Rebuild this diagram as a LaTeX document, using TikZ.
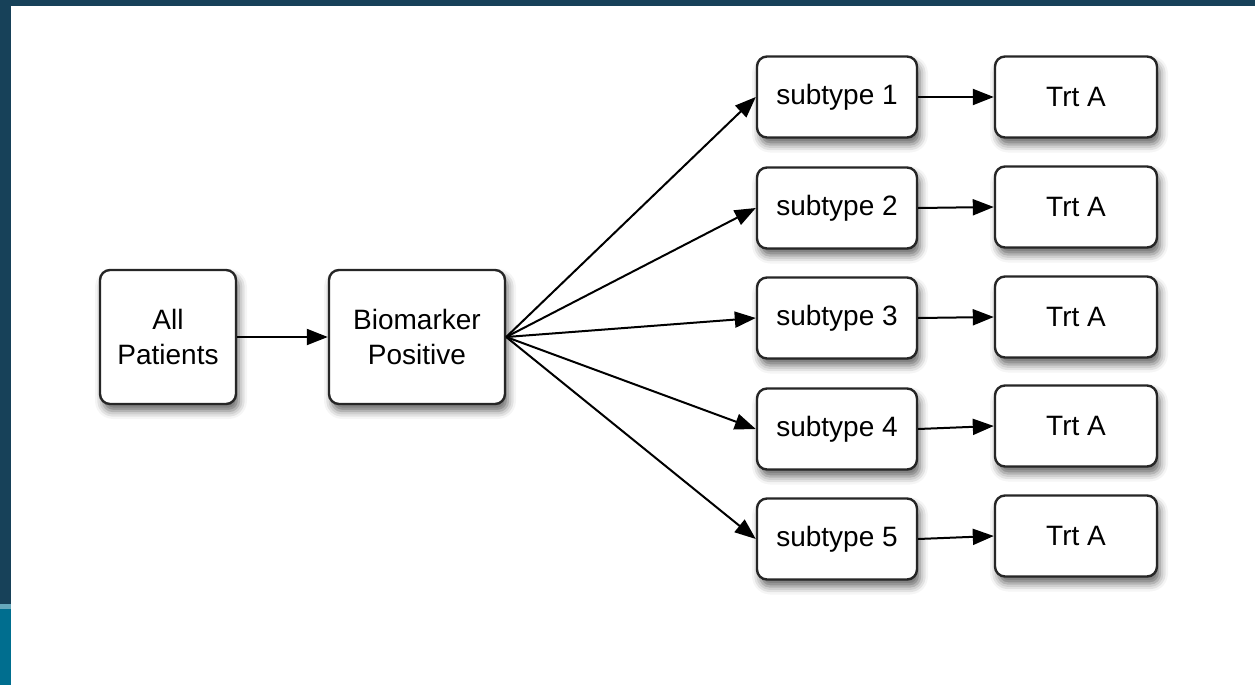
\documentclass[tikz,border=0pt]{standalone}
\usepackage{fontspec}
\setmainfont{Liberation Sans}
\usetikzlibrary{arrows.meta,shadows.blur}
\definecolor{barDark}{HTML}{174159}
\definecolor{barTeal}{HTML}{006E8F}
\definecolor{boxLine}{HTML}{262626}
\tikzset{
  flowbox/.style={draw=boxLine, line width=2.4pt, fill=white, rounded corners=10pt,
    align=center, font=\fontsize{28}{35}\selectfont, inner sep=0pt,
    blur shadow={shadow xshift=3pt, shadow yshift=-7pt, shadow blur radius=8pt, shadow opacity=60}},
  flowarrow/.style={draw=black, line width=2pt, -{Triangle[length=21pt,width=16pt]}}
}
\begin{document}
\begin{tikzpicture}[x=1pt,y=-1pt]
  \useasboundingbox (0,0) rectangle (1255,685);
  % frame bars
  \fill[barDark] (0,0) rectangle (1255,6);
  \fill[barDark] (0,0) rectangle (11,604);
  \fill[barTeal!60!white] (0,604) rectangle (11,609);
  \fill[barTeal] (0,609) rectangle (11,685);

  % main stages
  \node[flowbox, minimum width=136pt, minimum height=134pt] (all) at (168,337) {All\\Patients};
  \node[flowbox, minimum width=176pt, minimum height=134pt] (bio) at (417,337) {Biomarker\\Positive};

  % subtype and treatment columns
  \foreach \i/\ys/\yt in {1/97/97, 2/208/207, 3/318/317, 4/429/426, 5/539/536} {
    \node[flowbox, minimum width=160pt, minimum height=81pt] (sub\i) at (837,\ys) {subtype \i};
    \node[flowbox, minimum width=162pt, minimum height=81pt] (trt\i) at (1076,\yt) {Trt A};
  }

  % connectors
  \draw[flowarrow] (all.east) -- (bio.west);
  \foreach \i in {1,...,5} {
    \draw[flowarrow] (bio.east) -- (sub\i.west);
    \draw[flowarrow] (sub\i.east) -- (trt\i.west);
  }
\end{tikzpicture}
\end{document}
